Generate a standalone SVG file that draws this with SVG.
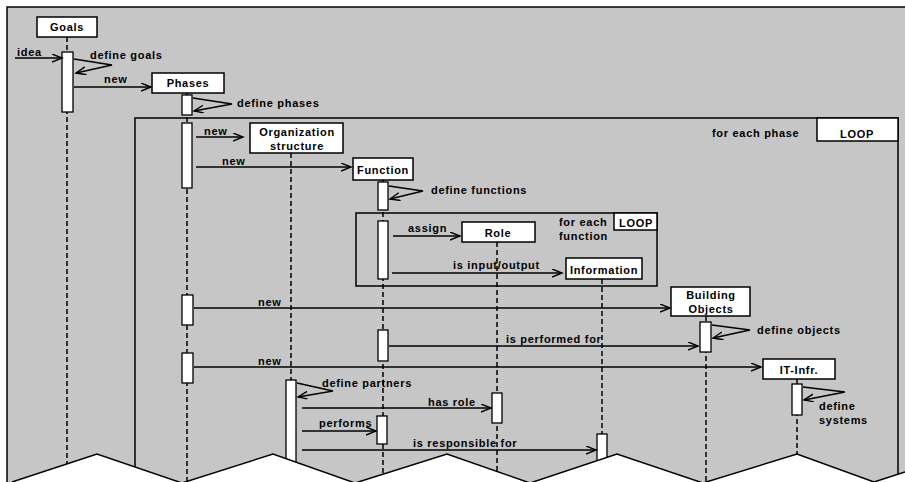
<svg xmlns="http://www.w3.org/2000/svg" width="905" height="482" viewBox="0 0 905 482">
<defs>
<marker id="arr" markerUnits="userSpaceOnUse" markerWidth="12" markerHeight="10" refX="10" refY="4" orient="auto">
<path d="M0,0 L10,4 L0,8" fill="none" stroke="#000" stroke-width="1.4"/>
</marker>
</defs>
<style>
.t{font-family:"Liberation Sans",Arial,sans-serif;font-weight:bold;font-size:11px;letter-spacing:0.7px;fill:#000}
.m{text-anchor:middle}
.box{fill:#fff;stroke:#000;stroke-width:1.5}
.bar{fill:#fff;stroke:#000;stroke-width:1.3}
.life{stroke:#000;stroke-width:1.5;stroke-dasharray:5 3;fill:none}
.frame{fill:none;stroke:#000;stroke-width:1.5}
.msg{fill:none;stroke:#000;stroke-width:1.3;marker-end:url(#arr)}
</style>
<rect x="0" y="0" width="905" height="482" fill="#fff"/>
<rect x="7" y="7" width="900" height="480" fill="#c6c6c6"/>
<path d="M7,482 V7 H905" fill="none" stroke="#000" stroke-width="1.5"/>

<g id="loop-phase">
<rect class="frame" x="135" y="118" width="763" height="400"/>
<rect class="box" x="817" y="118" width="81" height="23"/>
<text class="t m" x="857" y="138">LOOP</text>
<text class="t" x="712" y="137">for each phase</text>
</g>
<g id="loop-function">
<rect class="frame" x="356" y="213" width="301" height="73"/>
<rect class="box" x="614" y="213" width="43" height="17"/>
<text class="t m" x="636" y="227">LOOP</text>
<text class="t" x="559" y="226">for each</text>
<text class="t" x="559" y="240">function</text>
</g>

<g id="goals">
<line class="life" x1="67" y1="37" x2="67" y2="482"/>
<rect class="box" x="37" y="17" width="60" height="20"/>
<text class="t m" x="67" y="31">Goals</text>
<rect class="bar" x="62" y="52" width="11" height="60"/>
</g>
<g id="phases">
<line class="life" x1="187" y1="93" x2="187" y2="482"/>
<rect class="box" x="152" y="73" width="72" height="20"/>
<text class="t m" x="188" y="87">Phases</text>
<rect class="bar" x="182" y="95" width="10" height="20"/>
<rect class="bar" x="182" y="123" width="10" height="65"/>
<rect class="bar" x="182" y="295" width="11" height="30"/>
<rect class="bar" x="182" y="353" width="11" height="30"/>
</g>
<g id="organization">
<line class="life" x1="291" y1="153" x2="291" y2="482"/>
<rect class="box" x="250" y="123" width="93" height="30"/>
<text class="t m" x="297" y="136">Organization</text>
<text class="t m" x="297" y="150">structure</text>
<rect class="bar" x="286" y="380" width="10" height="100"/>
</g>
<g id="function">
<line class="life" x1="383" y1="180" x2="383" y2="482"/>
<rect class="box" x="353" y="158" width="60" height="22"/>
<text class="t m" x="383" y="174">Function</text>
<rect class="bar" x="378" y="182" width="10" height="28"/>
<rect class="bar" x="378" y="221" width="10" height="58"/>
<rect class="bar" x="378" y="330" width="10" height="31"/>
<rect class="bar" x="377" y="416" width="10" height="28"/>
</g>
<g id="role">
<line class="life" x1="497" y1="242" x2="497" y2="482"/>
<rect class="box" x="462" y="222" width="73" height="20"/>
<text class="t m" x="498" y="237">Role</text>
<rect class="bar" x="492" y="393" width="10" height="30"/>
</g>
<g id="information">
<line class="life" x1="602" y1="279" x2="602" y2="482"/>
<rect class="box" x="566" y="258" width="76" height="21"/>
<text class="t m" x="604" y="274">Information</text>
<rect class="bar" x="597" y="434" width="10" height="46"/>
</g>
<g id="building-objects">
<line class="life" x1="706" y1="316" x2="706" y2="482"/>
<rect class="box" x="671" y="287" width="79" height="29"/>
<text class="t m" x="711" y="299">Building</text>
<text class="t m" x="711" y="313">Objects</text>
<rect class="bar" x="700" y="322" width="11" height="30"/>
</g>
<g id="it-infr">
<line class="life" x1="797" y1="379" x2="797" y2="482"/>
<rect class="box" x="763" y="359" width="72" height="20"/>
<text class="t m" x="799" y="374">IT-Infr.</text>
<rect class="bar" x="792" y="384" width="10" height="31"/>
</g>

<g id="connectors">
<path class="msg" d="M15,58 H62"/>
<path class="msg" d="M74,59 L112,65 L76,73"/>
<path class="msg" d="M74,87 H151"/>
<path class="msg" d="M193,98 L232,104 L194,111"/>
<path class="msg" d="M196,137 H243"/>
<path class="msg" d="M196,167 H351"/>
<path class="msg" d="M389,186 L423,191 L390,199"/>
<path class="msg" d="M393,236 H460"/>
<path class="msg" d="M392,273 H562"/>
<path class="msg" d="M194,308 H670"/>
<path class="msg" d="M712,325 L750,330 L713,338"/>
<path class="msg" d="M389,346 H698"/>
<path class="msg" d="M194,367 H761"/>
<path class="msg" d="M803,387 L845,392 L804,400"/>
<path class="msg" d="M297,383 L333,391 L298,397"/>
<path class="msg" d="M302,408 H491"/>
<path class="msg" d="M302,431 H376"/>
<path class="msg" d="M302,450 H596"/>
</g>

<g id="labels">
<text class="t" x="17" y="56">idea</text>
<text class="t" x="90" y="59">define goals</text>
<text class="t" x="104" y="83">new</text>
<text class="t" x="237" y="107">define phases</text>
<text class="t" x="204" y="135">new</text>
<text class="t" x="222" y="165">new</text>
<text class="t" x="431" y="194">define functions</text>
<text class="t" x="408" y="232">assign</text>
<text class="t" x="453" y="269">is input/output</text>
<text class="t" x="258" y="306">new</text>
<text class="t" x="757" y="334">define objects</text>
<text class="t" x="506" y="343">is performed for</text>
<text class="t" x="258" y="365">new</text>
<text class="t" x="819" y="410">define</text>
<text class="t" x="819" y="424">systems</text>
<text class="t" x="322" y="387">define partners</text>
<text class="t" x="428" y="406">has role</text>
<text class="t" x="319" y="427">performs</text>
<text class="t" x="413" y="447">is responsible for</text>
</g>

<path d="M0,482 L0,490 L7,490 L7,482 L12,482 L97,454 L182,483 L273,454 L355,483 L447,454 L530,483 L617,454 L703,483 L797,454 L874,482 L905,472 L905,490 L0,490 Z" fill="#fff"/>
<path d="M12,482 L97,454 L182,483 L273,454 L355,483 L447,454 L530,483 L617,454 L703,483 L797,454 L874,482 L905,472" fill="none" stroke="#000" stroke-width="1.5"/>
</svg>
